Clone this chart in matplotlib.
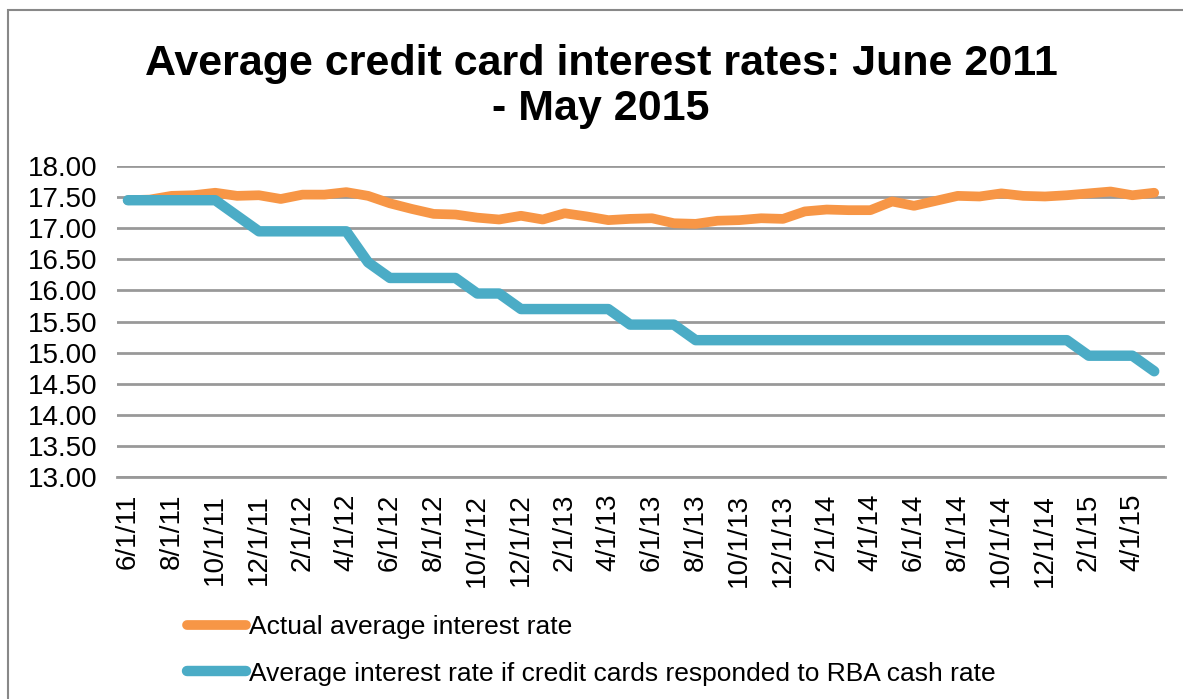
import numpy as np
import matplotlib
matplotlib.use("Agg")
import matplotlib.pyplot as plt
from matplotlib.patches import Rectangle

plt.rcParams['font.family'] = ['Liberation Sans', 'DejaVu Sans']

# monthly dates, June 2011 - May 2015
months = []
for k in range(48):
    m = (6 + k - 1) % 12 + 1
    y = 11 + (6 + k - 1) // 12
    months.append("%d/1/%d" % (m, y))

actual = [17.45, 17.46, 17.52, 17.53, 17.57, 17.52, 17.53, 17.47, 17.54, 17.54,
          17.58, 17.52, 17.40, 17.31, 17.23, 17.22, 17.17, 17.14, 17.20, 17.14,
          17.24, 17.19, 17.13, 17.15, 17.16, 17.08, 17.07, 17.12, 17.13, 17.16,
          17.15, 17.27, 17.30, 17.29, 17.29, 17.43, 17.36, 17.44, 17.52, 17.51,
          17.56, 17.52, 17.51, 17.53, 17.56, 17.59, 17.53, 17.57]

rba = [17.45, 17.45, 17.45, 17.45, 17.45, 17.20, 16.95, 16.95, 16.95, 16.95,
       16.95, 16.45, 16.20, 16.20, 16.20, 16.20, 15.95, 15.95, 15.70, 15.70,
       15.70, 15.70, 15.70, 15.45, 15.45, 15.45] + [15.20] * 18 + [14.95, 14.95, 14.95, 14.70]

yticks = [13.0, 13.5, 14.0, 14.5, 15.0, 15.5, 16.0, 16.5, 17.0, 17.5, 18.0]

fig = plt.figure(figsize=(11.83, 6.99), dpi=100)
ax = fig.add_axes([0.0989, 0.3176, 0.886, 0.4449])

x = np.arange(len(months))
ax.plot(x, actual, color='#F79646', lw=7, solid_capstyle='round', solid_joinstyle='round',
        label='Actual average interest rate')
ax.plot(x, rba, color='#4BACC6', lw=7.5, solid_capstyle='round', solid_joinstyle='round',
        label='Average interest rate if credit cards responded to RBA cash rate')

ax.set_xlim(-0.5, len(months) - 0.5)
ax.set_ylim(13, 18)
ax.set_yticks(yticks)
ax.set_yticklabels(["%.2f" % v for v in yticks], fontsize=20)
ax.set_xticks(x[::2])
ax.set_xticklabels(months[::2], rotation=90, fontsize=20)
ax.tick_params(length=0, pad=12)
ax.tick_params(axis='y', pad=14)
ax.grid(axis='y', color='#999999', lw=2)
ax.set_axisbelow(True)
for s in ['top', 'left', 'right']:
    ax.spines[s].set_visible(False)
ax.spines['bottom'].set_color('#999999')
ax.spines['bottom'].set_linewidth(2)

fig.suptitle("Average credit card interest rates: June 2011\n- May 2015",
             fontsize=31, fontweight='bold', x=0.508, y=0.937, linespacing=1.15)

leg = fig.legend(loc='upper left', bbox_to_anchor=(0.158, 0.12), frameon=False,
                 fontsize=19, handlelength=2.25, handletextpad=0.1, labelspacing=0.85,
                 borderaxespad=0, borderpad=0)

fig.patches.append(Rectangle((8 / 1183, -0.05), 1.2, 1 - 10 / 699 + 0.05,
                             transform=fig.transFigure, fill=False,
                             edgecolor='#888888', lw=1.5))

fig.savefig('out.png', dpi=100)
